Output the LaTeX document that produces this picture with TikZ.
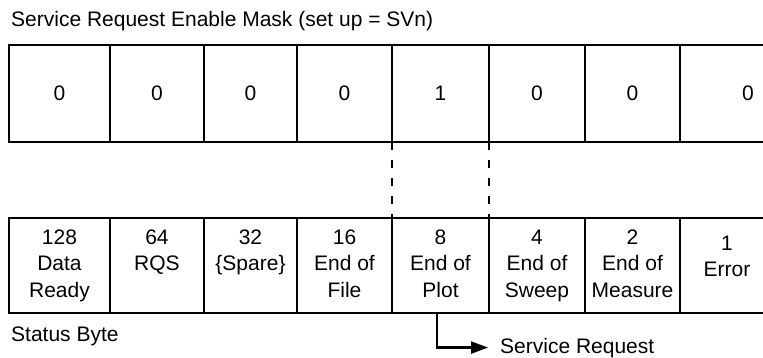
\documentclass[tikz,border=0pt]{standalone}
\usepackage{fontspec}
\setmainfont{Liberation Sans}
\usetikzlibrary{arrows.meta}
\begin{document}
\begin{tikzpicture}[x=1pt,y=-1pt,
  txt/.style={font=\fontsize{21}{26.5}\selectfont, inner sep=0pt, align=center},
  cell/.style={draw, line width=2.3pt, inner sep=0pt, outer sep=0pt, align=center,
    font=\fontsize{21}{26.5}\selectfont},
  toprow/.style={cell, minimum height=97},
  botrow/.style={cell, minimum height=95},
  link/.style={line width=2.3pt, dash pattern=on 8pt off 10pt},
  flow/.style={line width=2.2pt, -{Triangle[length=17pt,width=12pt]}}
]
\useasboundingbox (0,0) rectangle (763,358);

\node[txt, anchor=base west] (title) at (11,27) {Service Request Enable Mask (set up = SVn)};

% mask row
\node[toprow, minimum width=101]  (t1) at (59.5,93.5)   {0};
\node[toprow, minimum width=94]   (t2) at (157,93.5)    {0};
\node[toprow, minimum width=93]   (t3) at (250.5,93.5)  {0};
\node[toprow, minimum width=95]   (t4) at (344.5,93.5)  {0};
\node[toprow, minimum width=97]   (t5) at (440.5,93.5)  {1};
\node[toprow, minimum width=96]   (t6) at (537,93.5)    {0};
\node[toprow, minimum width=95]   (t7) at (632.5,93.5)  {0};
\node[toprow, minimum width=136]  (t8) at (748,93.5)    {0};

% status byte row
\node[botrow, minimum width=101]  (b1) at (59.5,265.5)   {\strut 128\\\strut Data\\\strut Ready};
\node[botrow, minimum width=94]   (b2) at (157,265.5)    {\strut 64\\\strut RQS\\\strut};
\node[botrow, minimum width=93]   (b3) at (250.5,265.5)  {\strut 32\\\strut \{Spare\}\\\strut};
\node[botrow, minimum width=95]   (b4) at (344.5,265.5)  {\strut 16\\\strut End of\\\strut File};
\node[botrow, minimum width=97]   (b5) at (440.5,265.5)  {\strut 8\\\strut End of\\\strut Plot};
\node[botrow, minimum width=96]   (b6) at (537,265.5)    {\strut 4\\\strut End of\\\strut Sweep};
\node[botrow, minimum width=95]   (b7) at (632.5,265.5)  {\strut 2\\\strut End of\\\strut Measure};
\node[botrow, minimum width=95]   (b8) at (727.5,265.5)  {};
\node[txt] (e8) at (727,258) {\strut 1\\\strut Error};

\node[txt, anchor=base west] (status) at (11,341) {Status Byte};

% dashed link
\draw[link] (t5.south west) -- (b5.north west);
\draw[link] (t5.south east) -- (b5.north east);

% service request
\node[txt, anchor=base west] (sr) at (500,353) {Service Request};
\draw[flow] ([xshift=-3.5pt]b5.south) |- ([xshift=-12pt]sr.west);
\end{tikzpicture}
\end{document}
